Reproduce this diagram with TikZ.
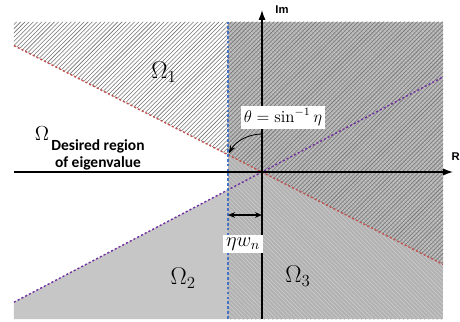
\documentclass[tikz,border=0pt]{standalone}
\usepackage{amsmath, amssymb}
\usepackage{xcolor}
\usepackage{fontspec}
\usepackage{tikz}
\usetikzlibrary{patterns,arrows.meta}
\newfontfamily\carlito{Carlito}
\newfontfamily\arialish{Liberation Sans}
\definecolor{redline}{RGB}{192,80,77}
\definecolor{purpline}{RGB}{112,48,160}
\definecolor{blueline}{RGB}{68,114,196}
\definecolor{omtwo}{RGB}{198,198,198}
\definecolor{omthree}{RGB}{178,178,178}

\begin{document}
\begin{tikzpicture}[
  omlab/.style={font=\LARGE},
  axlab/.style={font=\arialish\bfseries\footnotesize},
  whitebox/.style={fill=white,inner sep=2pt}]
  \useasboundingbox(-6.55,-3.725)rectangle(4.95,4.3);
  \def\xl{-6.2}\def\xr{4.525}\def\yt{3.75}\def\yb{-3.675}\def\xb{-0.85}
  % regions
  \fill[omtwo](\xl,-3.255)--(\xb,-0.446)--(\xb,\yb)--(\xl,\yb)--cycle;
  \fill[omthree](\xb,\yb)rectangle(\xr,\yt);
  \fill[pattern=north west lines,pattern color=gray!40](\xb,\yb)rectangle(\xr,\yt);
  \fill[pattern=north east lines,pattern color=black!55](\xl,3.16)--(\xr,-2.31)--(\xr,\yt)--(\xl,\yt)--cycle;
  % boundary lines
  \draw[redline,line width=1pt,dash pattern=on 1.5pt off 1.5pt](\xl,3.16)--(\xr,-2.31);
  \draw[purpline,line width=1pt,dash pattern=on 1.5pt off 1.5pt](\xl,-3.255)--(\xr,2.376);
  \draw[blueline,line width=1pt,dash pattern=on 2pt off 1.5pt](\xb,\yb)--(\xb,\yt);
  % axes
  \coordinate(O)at(0,0);
  \coordinate(xs)at(\xl,0);\coordinate(xe)at(4.775,0);
  \coordinate(ys)at(0,\yb);\coordinate(ye)at(0,4.05);
  \draw[line width=0.9pt,-{Latex[length=7pt,width=5pt]}](xs)--(xe);
  \draw[line width=0.9pt,-{Latex[length=7pt,width=5pt]}](ys)--(ye);
  \node[axlab,inner sep=0pt](re)at(4.84,0.38){R};
  \node[axlab](im)at(0.5,4.05){Im};
  % region names
  \node[omlab](om1)at(-2.45,2.5){$\Omega_1$};
  \node[omlab](om2)at(-1.97,-2.65){$\Omega_2$};
  \node[omlab](om3)at(0.9,-2.6){$\Omega_3$};
  \node[font=\Large](omd)at(-5.5,0.97){$\Omega$};
  \node[font=\carlito\bfseries\fontsize{11}{12.5}\selectfont,align=center,inner sep=0pt](desc)at(-4.1,0.43){Desired region\\of eigenvalue};
  % angle
  \node[whitebox,font=\large](theta)at(0.525,1.37){$\theta=\sin^{-1}\eta$};
  \coordinate(ths)at(0,0.95);
  \draw[line width=0.6pt,-{Stealth[length=6pt,width=4pt]}](ths)arc[start angle=90,end angle=151,radius=0.95];
  % offset
  \node[whitebox,font=\Large](eta)at(-0.475,-1.8){$\eta w_n$};
  \coordinate(offl)at(\xb,-1.075);\coordinate(offr)at(0,-1.075);
  \draw[line width=0.9pt,{Stealth[length=5pt,width=4pt]}-{Stealth[length=5pt,width=4pt]}](offl)--(offr);
\end{tikzpicture}
\end{document}
